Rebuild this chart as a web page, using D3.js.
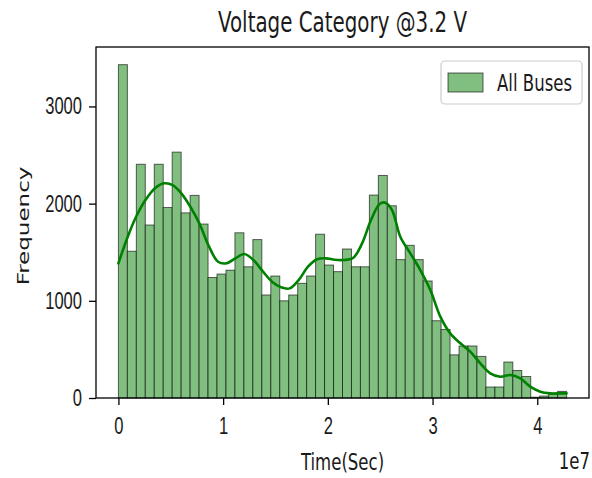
<!DOCTYPE html>
<html>
<head>
<meta charset="utf-8">
<script src="https://cdn.jsdelivr.net/npm/d3@7"></script>
<style>
  html, body { margin: 0; padding: 0; background: #fff; }
  svg { display: block; font-family: "DejaVu Sans", sans-serif; }
</style>
</head>
<body>
<svg id="chart" width="592" height="478"></svg>
<script>
// ---- data ----
const title = "Voltage Category @3.2 V";
const xLabel = "Time(Sec)";
const yLabel = "Frequency";
const seriesName = "All Buses";
const offsetLabel = "1e7";

const xMin = 0;
const xMax = 4.28e7;
const counts = [
  3430, 1510, 2405, 1780, 2405, 1960, 2530, 1905, 2085, 1790,
  1240, 1275, 1315, 1700, 1350, 1630, 1060, 1255, 1000, 1060,
  1180, 1255, 1685, 1368, 1300, 1533, 1350, 1350, 2088, 2290,
  1978, 1424, 1571, 1424, 1204, 795, 705, 444, 535, 535,
  428, 113, 113, 370, 283, 221, 8, 20, 40, 68
];

const kdeX = [0.000, 0.089, 0.169, 0.258, 0.347, 0.436, 0.518, 0.601, 0.687, 0.773,
  0.866, 0.952, 1.034, 1.117, 1.203, 1.289, 1.381, 1.467, 1.553, 1.635,
  1.721, 1.811, 1.897, 1.983, 2.065, 2.151, 2.241, 2.327, 2.412, 2.495,
  2.549, 2.613, 2.692, 2.788, 2.883, 2.979, 3.074, 3.169, 3.265, 3.360,
  3.456, 3.551, 3.647, 3.742, 3.838, 3.933, 4.029, 4.124, 4.219, 4.280];
const kdeY = [1386, 1660, 1865, 2037, 2157, 2209, 2191, 2106, 1968, 1797,
  1557, 1402, 1386, 1437, 1481, 1420, 1300, 1197, 1139, 1128,
  1214, 1351, 1427, 1437, 1422, 1420, 1440, 1591, 1831, 1996,
  2010, 1934, 1660, 1488, 1317, 1111, 837, 665, 563, 477,
  357, 254, 219, 237, 202, 117, 65, 48, 48, 48];

const xTicks = [0, 1e7, 2e7, 3e7, 4e7];
const xTickLabels = ["0", "1", "2", "3", "4"];
const yTicks = [0, 1000, 2000, 3000];
const yTickLabels = ["0", "1000", "2000", "3000"];

// ---- layout ----
const M = { left: 96, right: 589, top: 47, bottom: 398 };
const SX = 0.72;            // horizontal squeeze of glyphs
const FS = 23;              // base font size
const barFill = "#80bf80";
const lineColor = "#008000";

const svg = d3.select("#chart");

const pad = 0.05 * (xMax - xMin);
const x = d3.scaleLinear().domain([xMin - pad, xMax + pad]).range([M.left, M.right]);
const yTop = d3.max(counts) * 1.053;
const y = d3.scaleLinear().domain([0, yTop]).range([M.bottom, M.top]);

const nb = counts.length;
const bw = (xMax - xMin) / nb;
const bins = counts.map((c, i) => ({ x0: xMin + i * bw, x1: xMin + (i + 1) * bw, c }));

// bars
svg.append("g").selectAll("rect").data(bins).join("rect")
  .attr("x", d => x(d.x0))
  .attr("y", d => y(d.c))
  .attr("width", d => x(d.x1) - x(d.x0))
  .attr("height", d => y(0) - y(d.c))
  .attr("fill", barFill)
  .attr("stroke", "#000")
  .attr("stroke-opacity", 0.6)
  .attr("stroke-width", 1);

// kde
const kdePts = kdeX.map((v, i) => [v * 1e7, kdeY[i]]);
svg.append("path")
  .datum(kdePts)
  .attr("fill", "none")
  .attr("stroke", lineColor)
  .attr("stroke-width", 2.6)
  .attr("stroke-linejoin", "round")
  .attr("stroke-linecap", "round")
  .attr("d", d3.line().x(d => x(d[0])).y(d => y(d[1])).curve(d3.curveCatmullRom.alpha(0.5)));

// axes
const xAxis = d3.axisBottom(x).tickValues(xTicks)
  .tickFormat((d, i) => xTickLabels[i]).tickSize(7).tickPadding(13);
const gx = svg.append("g").attr("transform", `translate(0,${M.bottom})`).call(xAxis);
gx.select(".domain").remove();
gx.selectAll(".tick line").attr("stroke", "#000").attr("stroke-width", 1.3);
gx.selectAll(".tick text")
  .attr("fill", "#1a1a1a")
  .style("font-size", FS + "px")
  .attr("x", 0)
  .attr("transform", `scale(${SX},1)`);

const yAxis = d3.axisLeft(y).tickValues(yTicks)
  .tickFormat((d, i) => yTickLabels[i]).tickSize(7);
const gy = svg.append("g").attr("transform", `translate(${M.left},0)`).call(yAxis);
gy.select(".domain").remove();
gy.selectAll(".tick line").attr("stroke", "#000").attr("stroke-width", 1.3);
gy.selectAll(".tick text")
  .attr("fill", "#1a1a1a")
  .style("font-size", FS + "px")
  .attr("x", -14 / SX)
  .attr("transform", `scale(${SX},1)`);

// frame
svg.append("rect")
  .attr("x", M.left).attr("y", M.top)
  .attr("width", M.right - M.left).attr("height", M.bottom - M.top)
  .attr("fill", "none").attr("stroke", "#000").attr("stroke-width", 1.3);

// text helper
function sText(str, tx, ty, size, anchor, extra) {
  return svg.append("text")
    .attr("transform", `translate(${tx},${ty}) scale(${SX},1)` + (extra || ""))
    .attr("text-anchor", anchor)
    .attr("fill", "#1a1a1a")
    .style("font-size", size + "px")
    .text(str);
}

sText(title, (M.left + M.right) / 2, 32, 27.6, "middle");
sText(xLabel, (M.left + M.right) / 2, 470, FS, "middle");
sText(offsetLabel, 590, 469, FS, "end");
sText(yLabel, 29, 226, FS, "middle", " rotate(-90)");

// legend
const lg = svg.append("g");
lg.append("rect")
  .attr("x", 441).attr("y", 61).attr("width", 141).attr("height", 43)
  .attr("rx", 4).attr("fill", "#fff").attr("fill-opacity", 0.8)
  .attr("stroke", "#ccc").attr("stroke-width", 1.2);
lg.append("rect")
  .attr("x", 448).attr("y", 73).attr("width", 35).attr("height", 19)
  .attr("fill", barFill).attr("stroke", "#000").attr("stroke-opacity", 0.6).attr("stroke-width", 1);
sText(seriesName, 497, 91, FS, "start");
</script>
</body>
</html>
